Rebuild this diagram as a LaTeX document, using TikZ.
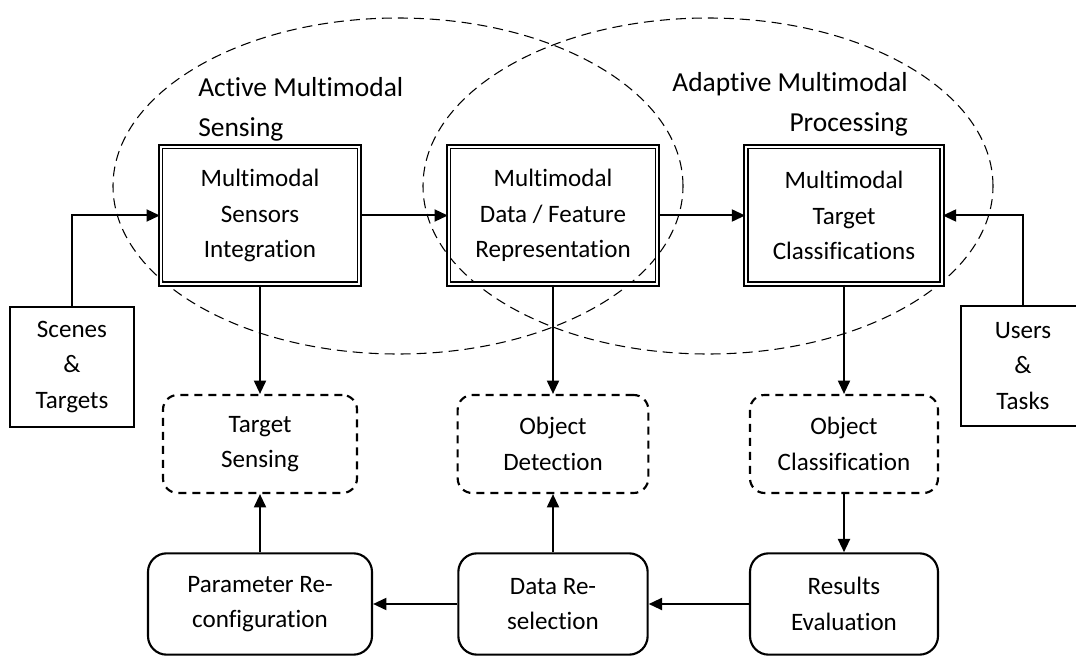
\documentclass[tikz,border=0pt]{standalone}
\usepackage{fontspec}
\setmainfont{Carlito}[Ligatures=NoCommon]
\usetikzlibrary{arrows.meta}

\begin{document}
\begin{tikzpicture}[x=0.75pt,y=-0.75pt,
        every node/.style={font=\fontsize{18.8}{26.5}\selectfont,align=center,inner sep=0pt},
        core/.style={draw,double,double distance=1.5pt,line width=1.25pt,minimum height=103pt},
        env/.style={draw,line width=1.1pt,minimum width=93pt,minimum height=90pt},
        outcome/.style={draw,line width=1.6pt,dash pattern=on 6pt off 4.5pt,rounded corners=11pt,minimum height=73.5pt},
        action/.style={draw,line width=1.6pt,rounded corners=14pt,minimum height=76pt},
        zone/.style={line width=0.8pt,dash pattern=on 7.5pt off 4.5pt},
        title/.style={font=\fontsize{20.6}{30}\selectfont},
        link/.style={line width=1.5pt,-{Triangle[length=10pt,width=9pt]}}]
\useasboundingbox (0,0) rectangle (1076,656);

\draw[zone] (398,186) ellipse [x radius=213.75pt, y radius=126pt];
\draw[zone] (708,186) ellipse [x radius=213.75pt, y radius=126pt];

\node[title,anchor=west,align=left] (sensetitle) at (198,109) {Active Multimodal\\Sensing};
\node[title,anchor=east,align=right] (proctitle) at (908,104) {Adaptive Multimodal\\Processing};

\node[core,minimum width=149pt] (msi) at (260,215.5) {Multimodal\\Sensors\\Integration};
\node[core,minimum width=156.5pt] (dfr) at (553,215.5) {Multimodal\\Data / Feature\\Representation};
\node[core,minimum width=147pt] (mtc) at (844,215.5) {Multimodal\\Target\\Classifications};

\node[env] (scenes) at (72,367) {Scenes\\\&\\Targets};
\node[env] (users) at (1023,366) {Users\\\&\\Tasks};

\node[outcome,minimum width=145.5pt] (sensing) at (260,444) {Target\\Sensing};
\node[outcome,minimum width=143pt] (detect) at (553,444) {Object\\Detection};
\node[outcome,minimum width=141pt] (classify) at (844,444) {Object\\Classification};

\node[action,minimum width=168pt] (param) at (260,604) {Parameter Re-\\configuration};
\node[action,minimum width=142pt] (reselect) at (553,604) {Data Re-\\selection};
\node[action,minimum width=141pt] (evaluate) at (844,604) {Results\\Evaluation};

\draw[link] (scenes.north) |- (msi.west);
\draw[link] (users.north) |- (mtc.east);
\draw[link] (msi) -- (dfr);
\draw[link] (dfr) -- (mtc);

\draw[link] (msi) -- (sensing);
\draw[link] (dfr) -- (detect);
\draw[link] (mtc) -- (classify);

\draw[link] (classify) -- (evaluate);
\draw[link] (evaluate) -- (reselect);
\draw[link] (reselect) -- (param);
\draw[link] (reselect) -- (detect);
\draw[link] (param) -- (sensing);
\end{tikzpicture}
\end{document}
